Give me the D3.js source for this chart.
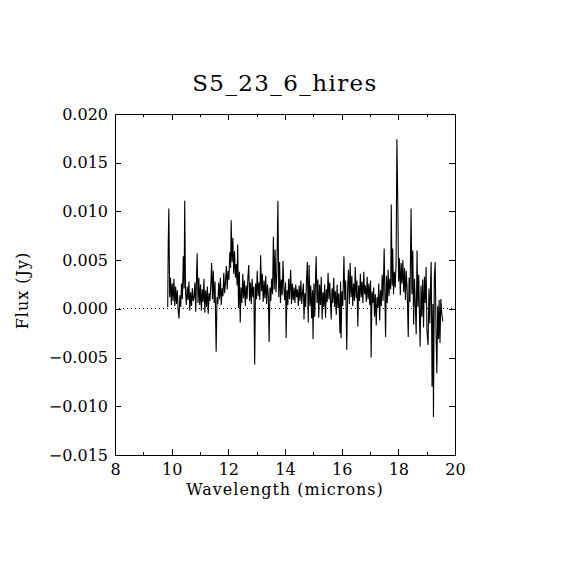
<!DOCTYPE html>
<html>
<head>
<meta charset="utf-8">
<script src="https://cdn.jsdelivr.net/npm/d3@7"></script>
<style>
  body { margin: 0; background: #fff; }
  text { font-family: "DejaVu Serif", serif; fill: #000; }
</style>
</head>
<body>
<div id="chart"></div>
<script>
const title = "S5_23_6_hires";
const xLabel = "Wavelength (microns)";
const yLabel = "Flux (Jy)";
const xTicks = [8, 10, 12, 14, 16, 18, 20];
const xMinorTicks = [9, 11, 13, 15, 17, 19];
const yTicks = [-0.015, -0.010, -0.005, 0, 0.005, 0.010, 0.015, 0.020];

// wavelength in microns
const wavelength = [
  9.86, 9.88, 9.90, 9.93, 9.96, 9.99, 10.02, 10.05, 10.08, 10.11, 10.14, 10.17, 10.20, 10.23, 10.26, 10.29, 10.32, 10.35, 10.38, 10.41, 10.44, 10.46, 10.49,
  10.52, 10.55, 10.58, 10.61, 10.64, 10.67, 10.70, 10.73, 10.76, 10.79, 10.82, 10.85, 10.88, 10.90, 10.93, 10.96, 10.99,
  11.02, 11.05, 11.08, 11.11, 11.14, 11.17, 11.20, 11.23, 11.26, 11.29, 11.32, 11.35, 11.38, 11.41, 11.44, 11.47, 11.50,
  11.53, 11.57, 11.60, 11.63, 11.66, 11.69, 11.72, 11.75, 11.78, 11.81, 11.84, 11.87, 11.90, 11.93, 11.96, 11.99,
  12.02, 12.05, 12.08, 12.10, 12.13, 12.16, 12.19, 12.22, 12.25, 12.28, 12.31, 12.33, 12.36, 12.39, 12.42, 12.45, 12.48,
  12.51, 12.54, 12.57, 12.60, 12.63, 12.66, 12.69, 12.72, 12.75, 12.78, 12.81, 12.84, 12.87, 12.90, 12.93, 12.96, 12.99,
  13.02, 13.05, 13.08, 13.11, 13.14, 13.17, 13.20, 13.23, 13.26, 13.29, 13.32, 13.35, 13.38, 13.41, 13.44, 13.47, 13.50,
  13.53, 13.56, 13.59, 13.62, 13.65, 13.68, 13.71, 13.75, 13.78, 13.81, 13.84, 13.87, 13.90, 13.93, 13.96, 13.99,
  14.02, 14.04, 14.07, 14.10, 14.13, 14.16, 14.20, 14.23, 14.26, 14.29, 14.32, 14.35, 14.38, 14.41, 14.44, 14.47, 14.50,
  14.53, 14.56, 14.59, 14.62, 14.65, 14.67, 14.70, 14.73, 14.76, 14.79, 14.82, 14.85, 14.88, 14.91, 14.94, 14.97, 14.99,
  15.02, 15.05, 15.08, 15.10, 15.13, 15.16, 15.19, 15.22, 15.25, 15.28, 15.31, 15.34, 15.37, 15.40, 15.43, 15.46, 15.49,
  15.52, 15.55, 15.58, 15.61, 15.63, 15.66, 15.69, 15.72, 15.75, 15.78, 15.81, 15.84, 15.87, 15.90, 15.94, 15.96, 15.98,
  16.01, 16.04, 16.08, 16.11, 16.14, 16.18, 16.21, 16.24, 16.27, 16.30, 16.33, 16.36, 16.39, 16.42, 16.45, 16.48, 16.51,
  16.54, 16.57, 16.60, 16.63, 16.66, 16.69, 16.72, 16.75, 16.78, 16.81, 16.84, 16.87, 16.90, 16.93, 16.96, 16.99,
  17.02, 17.04, 17.07, 17.10, 17.13, 17.16, 17.19, 17.22, 17.25, 17.28, 17.31, 17.34, 17.37, 17.40, 17.43, 17.46, 17.50,
  17.53, 17.55, 17.58, 17.61, 17.64, 17.67, 17.70, 17.73, 17.75, 17.78, 17.80, 17.83, 17.86, 17.89, 17.92, 17.95, 17.98,
  18.01, 18.04, 18.07, 18.10, 18.13, 18.16, 18.19, 18.22, 18.25, 18.28, 18.31, 18.35, 18.38, 18.41, 18.45, 18.48, 18.51,
  18.54, 18.57, 18.60, 18.63, 18.66, 18.69, 18.72, 18.75, 18.77, 18.80, 18.83, 18.86, 18.89, 18.92, 18.95, 18.98, 19.01,
  19.05, 19.08, 19.11, 19.14, 19.16, 19.19, 19.22, 19.24, 19.27, 19.30, 19.33, 19.36, 19.39, 19.42, 19.44, 19.47, 19.50, 19.53, 19.57
];

// flux in units of 0.001 Jy
const fluxMilliJy = [
  0.2, 6.9, 10.3, 1.2, 3.2, 0.4, 2.6, 0.8, 3.1, 0.3, 2.3, 0.5, 1.9, -0.2, -1.0, 1.4, 0.2, 2.6, 1.0, 5.4, 2.1, 11.1, 1.6,
  0.4, 2.3, 0.9, 2.8, -0.2, 1.7, 0.3, 2.1, 0.8, 1.2, 2.7, -0.3, 3.6, 5.7, 0.6, 3.2, 0.4,
  2.5, -0.2, 2.0, 0.7, 3.1, -0.4, 1.9, 0.2, 2.3, -0.5, 1.6, 0.8, 2.4, 4.7, 1.0, 3.9, 0.6,
  2.8, -4.4, 1.2, 0.5, 2.7, 1.0, 3.2, 0.4, 2.1, 1.3, 3.7, 1.6, 2.8, 4.4, 2.0, 3.9,
  3.0, 5.8, 4.2, 9.1, 4.8, 7.3, 3.6, 5.9, 3.2, 4.6, 2.4, 6.6, 0.1, 3.8, -1.4, 2.2, 0.6,
  3.6, 1.1, 2.9, 0.3, 2.4, 1.0, 3.2, 4.5, 0.8, 2.7, 0.5, 3.1, 1.2, 2.3, -5.7, 2.6, 1.0,
  3.9, 1.3, 2.7, 0.9, 5.5, 1.8, 3.6, 0.7, 2.9, 1.1, 3.4, 0.5, 2.5, 1.4, -3.4, 2.2, 0.8,
  3.1, 1.5, 7.4, 2.0, 6.1, 1.7, 3.5, 11.1, 1.2, 4.8, 0.6, 3.0, 1.4, 4.9, 2.2, 0.9,
  2.7, -3.0, 1.9, 0.4, 3.1, 1.0, 4.0, 0.5, 2.6, 0.9, 2.2, 0.6, 2.5, 1.2, 2.0, 0.3, 2.4,
  0.8, 2.9, 0.5, 1.8, 2.6, -1.1, 1.6, 0.2, 3.0, 4.8, -1.4, 4.5, 0.3, 2.4, -1.0, 1.9, -3.1,
  2.6, -0.8, 3.4, 5.4, 0.6, 3.0, -0.9, 2.5, 0.4, 3.3, -1.1, 1.7, 0.2, 2.5, -0.9, 2.0, 0.7,
  3.7, 1.0, 2.7, 0.4, -1.1, 2.1, 0.6, 3.2, 0.2, 1.8, -0.6, 2.5, 0.1, 1.6, -2.5, 2.8, -3.0,
  1.8, 0.3, 5.4, 0.9, 2.9, -4.2, 2.0, 4.0, 0.5, 4.7, 1.2, 3.4, 0.3, 2.6, 0.8, 4.3, 1.1,
  2.9, -1.8, 2.4, 0.8, 3.6, 1.2, 2.8, 0.6, 3.8, 1.5, 2.4, 0.7, 3.3, 1.0, 2.6, 0.4,
  2.9, -5.0, 1.8, 0.6, 2.2, -0.8, 1.5, -1.7, 1.2, 0.1, 2.6, -1.2, 1.9, 0.3, 3.5, 0.8, 6.2,
  0.5, -2.9, 3.4, 0.6, 4.0, 1.3, 3.1, 2.0, 10.7, 2.4, 6.2, 1.5, 3.8, 2.2, 4.6, 17.4, 11.0,
  2.8, 5.2, 1.4, 4.7, 2.6, 5.0, 1.7, 4.2, 0.9, 3.9, 2.1, -2.9, 3.2, 0.7, 10.3, 1.5, 6.0,
  -1.6, 3.1, 0.4, -2.6, 6.0, 0.2, 3.5, -1.3, -3.9, 2.4, -0.8, 3.0, -1.9, 3.3, 0.6, 4.3, -2.2,
  -3.7, 2.1, -1.5, 2.9, 4.8, -8.0, 0.5, -11.1, 3.2, 4.8, -2.3, -6.6, 0.3, -3.1, 0.9, -3.5, 1.0, -0.4, -1.3
];

const width = 570, height = 570;
const margin = { top: 114, right: 115, bottom: 115, left: 115 };
const w = width - margin.left - margin.right;
const h = height - margin.top - margin.bottom;

const data = wavelength.map((x, i) => ({ x: x, y: fluxMilliJy[i] / 1000 }));

const svg = d3.select("#chart").append("svg")
  .attr("width", width)
  .attr("height", height);

const canvas = svg.append("g")
  .attr("transform", "translate(" + margin.left + "," + margin.top + ")");

const x = d3.scaleLinear().domain([8, 20]).range([0, w]);
const y = d3.scaleLinear().domain([-0.015, 0.020]).range([h, 0]);

// zero line
canvas.append("line")
  .attr("x1", 0).attr("x2", w)
  .attr("y1", y(0)).attr("y2", y(0))
  .attr("stroke", "#000")
  .attr("stroke-width", 1)
  .attr("shape-rendering", "crispEdges")
  .attr("stroke-dasharray", "1,3");

// spectrum
const line = d3.line().x(d => x(d.x)).y(d => y(d.y));
canvas.append("path")
  .datum(data)
  .attr("fill", "none")
  .attr("stroke", "#000")
  .attr("stroke-width", 1.1)
  .attr("d", line);

// frame
canvas.append("rect")
  .attr("width", w).attr("height", h)
  .attr("fill", "none")
  .attr("stroke", "#000")
  .attr("stroke-width", 1)
  .attr("shape-rendering", "crispEdges");

// X axes
canvas.append("g")
  .attr("transform", "translate(0," + h + ")")
  .call(d3.axisBottom(x).tickValues(xTicks).tickSizeInner(-6).tickSizeOuter(0).tickPadding(9).tickFormat(d3.format("d")));
canvas.append("g")
  .attr("transform", "translate(0," + h + ")")
  .call(d3.axisBottom(x).tickValues(xMinorTicks).tickSizeInner(-3).tickSizeOuter(0).tickFormat(""));
canvas.append("g")
  .call(d3.axisTop(x).tickValues(xTicks).tickSizeInner(-6).tickSizeOuter(0).tickFormat(""));
canvas.append("g")
  .call(d3.axisTop(x).tickValues(xMinorTicks).tickSizeInner(-3).tickSizeOuter(0).tickFormat(""));

// Y axes
canvas.append("g")
  .call(d3.axisLeft(y).tickValues(yTicks).tickSizeInner(-6).tickSizeOuter(0).tickPadding(7).tickFormat(d3.format(".3f")));
canvas.append("g")
  .attr("transform", "translate(" + w + ",0)")
  .call(d3.axisRight(y).tickValues(yTicks).tickSizeInner(-6).tickSizeOuter(0).tickFormat(""));

canvas.selectAll(".domain").remove();
canvas.selectAll(".tick line").attr("stroke", "#000").attr("shape-rendering", "crispEdges");
canvas.selectAll(".tick text")
  .style("font-family", "'DejaVu Serif', serif")
  .style("font-size", "16px")
  .attr("fill", "#000");

// labels
svg.append("text")
  .attr("x", margin.left + w / 2)
  .attr("y", 91)
  .attr("text-anchor", "middle")
  .style("font-size", "23px")
  .style("letter-spacing", "1.4px")
  .text(title);

svg.append("text")
  .attr("x", margin.left + w / 2)
  .attr("y", 495)
  .attr("text-anchor", "middle")
  .style("font-size", "16px")
  .style("letter-spacing", "1px")
  .text(xLabel);

svg.append("text")
  .attr("transform", "translate(28," + (margin.top + h / 2 + 6) + ") rotate(-90)")
  .attr("text-anchor", "middle")
  .style("font-size", "16px")
  .style("letter-spacing", "1px")
  .text(yLabel);
</script>
</body>
</html>
